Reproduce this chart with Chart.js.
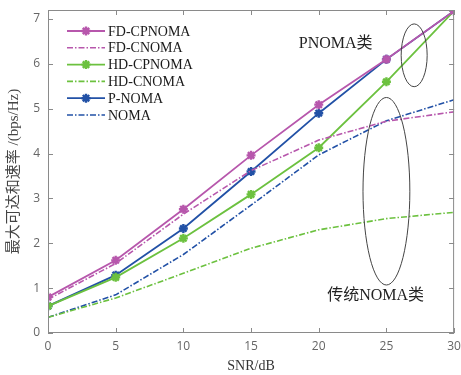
<!DOCTYPE html>
<html lang="zh">
<head>
<meta charset="UTF-8">
<title>最大可达和速率</title>
<script src="https://cdn.jsdelivr.net/npm/chart.js"></script>
<style>
    html, body { margin: 0; padding: 0; background: #fff; }
    #wrap { width: 461px; height: 375px; }
</style>
</head>
<body>
<div id="wrap"><canvas id="rateChart" width="461" height="375"></canvas></div>
<script>
    // SNR 取值 (dB)
    const snr = [0, 5, 10, 15, 20, 25, 30];

    // 各方案的最大可达和速率 (bps/Hz)
    const fdCpnoma = [0.80, 1.62, 2.76, 3.96, 5.09, 6.10, 7.18];
    const fdCnoma  = [0.75, 1.55, 2.65, 3.62, 4.30, 4.72, 4.93];
    const hdCpnoma = [0.60, 1.24, 2.11, 3.09, 4.13, 5.60, 7.18];
    const hdCnoma  = [0.35, 0.78, 1.33, 1.89, 2.30, 2.55, 2.69];
    const pNoma    = [0.60, 1.29, 2.33, 3.60, 4.90, 6.10, 7.18];
    const noma     = [0.35, 0.85, 1.75, 2.85, 3.97, 4.73, 5.20];

    const seriesNames = ['FD-CPNOMA', 'FD-CNOMA', 'HD-CPNOMA', 'HD-CNOMA', 'P-NOMA', 'NOMA'];
    const yTicks = [0, 1, 2, 3, 4, 5, 6, 7];

    const MAGENTA = '#b757ac';
    const GREEN = '#6cc13f';
    const BLUE = '#2251a6';
    const DASHDOT = [6, 2, 1.5, 2];

    const serif = '"Liberation Serif", "Noto Sans CJK SC", serif';
    const sans = '"Open Sans", "DejaVu Sans", sans-serif';

    function solid(label, data, color) {
        return {
            label, data: data.map((v, i) => ({ x: snr[i], y: v })),
            borderColor: color, backgroundColor: color,
            borderWidth: 1.8, pointStyle: 'star', pointRadius: 4.5,
            pointBorderWidth: 2.4, pointBorderColor: color,
            tension: 0
        };
    }
    function dashed(label, data, color) {
        return {
            label, data: data.map((v, i) => ({ x: snr[i], y: v })),
            borderColor: color, backgroundColor: color,
            borderWidth: 1.6, borderDash: DASHDOT, pointRadius: 0,
            tension: 0
        };
    }

    // 分类标注 (数据坐标)
    const groupLabels = [
        { text: 'PNOMA类', x: 21.25, y: 6.44 },
        { text: '传统NOMA类', x: 24.2, y: 0.84 }
    ];
    const groupEllipses = [
        { x: 27.05, y: 6.19, rx: 0.96, ry: 0.70 },
        { x: 25.0, y: 3.16, rx: 1.73, ry: 2.09 }
    ];

    const AXIS = '#8a8a8a';

    // 坐标框、内向刻度、椭圆、文字和图例
    const decorPlugin = {
        id: 'decor',
        afterDatasetsDraw(chart) {
            const { ctx, chartArea: a, scales: { x, y } } = chart;
            ctx.save();

            // 椭圆
            ctx.strokeStyle = '#444';
            ctx.lineWidth = 1;
            groupEllipses.forEach(e => {
                const cx = x.getPixelForValue(e.x);
                const cy = y.getPixelForValue(e.y);
                const rx = Math.abs(x.getPixelForValue(e.x + e.rx) - cx);
                const ry = Math.abs(y.getPixelForValue(e.y + e.ry) - cy);
                ctx.beginPath();
                ctx.ellipse(cx, cy, rx, ry, 0, 0, Math.PI * 2);
                ctx.stroke();
            });

            // 分类文字
            ctx.fillStyle = '#222';
            ctx.font = '16px ' + serif;
            ctx.textAlign = 'center';
            ctx.textBaseline = 'middle';
            groupLabels.forEach(t => {
                ctx.fillText(t.text, x.getPixelForValue(t.x), y.getPixelForValue(t.y));
            });

            // 坐标框
            ctx.strokeStyle = AXIS;
            ctx.lineWidth = 1;
            ctx.strokeRect(a.left + 0.5, a.top + 0.5, a.right - a.left - 1, a.bottom - a.top - 1);

            // 内向刻度
            const tl = 5;
            ctx.beginPath();
            snr.forEach(v => {
                const px = Math.round(x.getPixelForValue(v)) + 0.5;
                ctx.moveTo(px, a.bottom); ctx.lineTo(px, a.bottom - tl);
                ctx.moveTo(px, a.top); ctx.lineTo(px, a.top + tl);
            });
            yTicks.forEach(v => {
                const py = Math.round(y.getPixelForValue(v)) + 0.5;
                ctx.moveTo(a.left, py); ctx.lineTo(a.left + tl, py);
                ctx.moveTo(a.right, py); ctx.lineTo(a.right - tl, py);
            });
            ctx.stroke();

            // 图例
            const lx0 = 67, lx1 = 105, ly0 = 31, step = 16.8;
            ctx.font = '14px ' + serif;
            ctx.textAlign = 'left';
            chart.data.datasets.forEach((ds, i) => {
                const ly = ly0 + i * step;
                ctx.strokeStyle = ds.borderColor;
                ctx.lineWidth = ds.borderWidth;
                ctx.setLineDash(ds.borderDash || []);
                ctx.beginPath();
                ctx.moveTo(lx0, ly); ctx.lineTo(lx1, ly);
                ctx.stroke();
                ctx.setLineDash([]);
                if (ds.pointRadius > 0) {
                    ctx.lineWidth = ds.pointBorderWidth;
                    Chart.helpers.drawPoint(ctx, {
                        pointStyle: ds.pointStyle, radius: ds.pointRadius,
                        borderWidth: ds.pointBorderWidth, rotation: 0
                    }, (lx0 + lx1) / 2, ly);
                }
                ctx.fillStyle = '#1a1a1a';
                ctx.fillText(ds.label, 108, ly + 1);
            });
            ctx.restore();
        }
    };

    new Chart(document.getElementById('rateChart'), {
        type: 'line',
        data: {
            datasets: [
                solid(seriesNames[0], fdCpnoma, MAGENTA),
                dashed(seriesNames[1], fdCnoma, MAGENTA),
                solid(seriesNames[2], hdCpnoma, GREEN),
                dashed(seriesNames[3], hdCnoma, GREEN),
                solid(seriesNames[4], pNoma, BLUE),
                dashed(seriesNames[5], noma, BLUE)
            ]
        },
        options: {
            responsive: false,
            animation: false,
            layout: { padding: { left: 5, right: 5, top: 10, bottom: 0 } },
            plugins: { legend: { display: false }, tooltip: { enabled: false } },
            scales: {
                x: {
                    type: 'linear', min: 0, max: 30,
                    afterBuildTicks(s) { s.ticks = snr.map(v => ({ value: v })); },
                    afterFit(s) { s.height = 42; s.paddingLeft = 0; s.paddingRight = 0; },
                    grid: { display: false, drawTicks: false },
                    border: { display: false },
                    ticks: { color: '#666', font: { family: sans, size: 12 }, padding: 6, maxRotation: 0 },
                    title: {
                        display: true, text: 'SNR/dB', color: '#333',
                        font: { family: serif, size: 14 }, padding: { top: 1, bottom: 0 }
                    }
                },
                y: {
                    min: 0, max: 7.2,
                    afterBuildTicks(s) { s.ticks = yTicks.map(v => ({ value: v })); },
                    afterFit(s) { s.width = 43; s.paddingTop = 0; s.paddingBottom = 0; },
                    grid: { display: false, drawTicks: false },
                    border: { display: false },
                    ticks: { color: '#666', font: { family: sans, size: 12 }, padding: 8 },
                    title: {
                        display: true, text: '最大可达和速率 /(bps/Hz)', color: '#444',
                        font: { family: serif, size: 15 }, padding: { top: 0, bottom: 0 }
                    }
                }
            }
        },
        plugins: [decorPlugin]
    });
</script>
</body>
</html>
